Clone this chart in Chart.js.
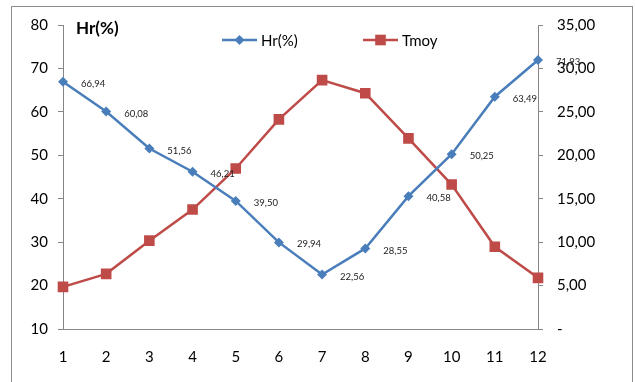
<!DOCTYPE html>
<html>
<head>
<meta charset="utf-8">
<script src="https://cdn.jsdelivr.net/npm/chart.js@4.4.0/dist/chart.umd.min.js"></script>
<style>
  html, body { margin: 0; padding: 0; background: #fff; }
  #wrap { width: 635px; height: 382px; position: relative; }
</style>
</head>
<body>
<div id="wrap"><canvas id="chart" width="635" height="382"></canvas></div>
<script>
// data
const months = ["1", "2", "3", "4", "5", "6", "7", "8", "9", "10", "11", "12"];
const hrValues = [66.94, 60.08, 51.56, 46.21, 39.50, 29.94, 22.56, 28.55, 40.58, 50.25, 63.49, 71.93];
const tmoyValues = [4.85, 6.35, 10.17, 13.75, 18.48, 24.14, 28.65, 27.15, 21.95, 16.63, 9.47, 5.89];
const hrTicks = [10, 20, 30, 40, 50, 60, 70, 80];
const tmoyTicks = [0, 5, 10, 15, 20, 25, 30, 35];

const FONT = "Lato, 'Open Sans', sans-serif";
const BLUE = "#4a7ebb";
const RED = "#be4b48";
const AXIS = "#868686";

const fmt2 = (v) => v.toFixed(2).replace(".", ",");

// frame, title, legend, point labels
const extras = {
  id: "extras",
  beforeDraw(chart) {
    const ctx = chart.ctx;
    ctx.save();
    ctx.fillStyle = "#fff";
    ctx.fillRect(0, 0, chart.width, chart.height);
    ctx.strokeStyle = "#8c8c8c";
    ctx.lineWidth = 1;
    ctx.strokeRect(11.5, 6.5, 621, 400);
    ctx.restore();
  },
  afterDatasetsDraw(chart) {
    const ctx = chart.ctx;
    ctx.save();

    // "Hr(%)" axis title
    ctx.fillStyle = "#000";
    ctx.font = "bold 17px " + FONT;
    ctx.textBaseline = "middle";
    ctx.textAlign = "left";
    ctx.fillText("Hr(%)", 76, 29);

    // legend
    const items = [
      { label: "Hr(%)", color: BLUE, style: "rectRot", r: 5, x: 222 },
      { label: "Tmoy", color: RED, style: "rect", r: 7.5, x: 363 }
    ];
    items.forEach((it) => {
      ctx.strokeStyle = it.color;
      ctx.lineWidth = 2.5;
      ctx.beginPath();
      ctx.moveTo(it.x, 40);
      ctx.lineTo(it.x + 35, 40);
      ctx.stroke();
      ctx.fillStyle = it.color;
      Chart.helpers.drawPoint(ctx, { pointStyle: it.style, radius: it.r, borderWidth: 0 }, it.x + 17.5, 40);
      ctx.fillStyle = "#000";
      ctx.font = "15px " + FONT;
      ctx.fillText(it.label, it.x + 39, 41);
    });

    // value labels on Hr points
    const meta = chart.getDatasetMeta(0);
    ctx.font = "9.5px " + FONT;
    ctx.fillStyle = "#222";
    meta.data.forEach((pt, i) => {
      ctx.fillText(fmt2(hrValues[i]), pt.x + 18, pt.y + 2);
    });
    ctx.restore();
  }
};

new Chart(document.getElementById("chart"), {
  type: "line",
  data: {
    labels: months,
    datasets: [
      {
        label: "Hr(%)",
        data: hrValues,
        yAxisID: "yHr",
        borderColor: BLUE,
        backgroundColor: BLUE,
        borderWidth: 2.5,
        pointStyle: "rectRot",
        pointRadius: 5,
        pointBorderWidth: 0,
        tension: 0
      },
      {
        label: "Tmoy",
        data: tmoyValues,
        yAxisID: "yT",
        borderColor: RED,
        backgroundColor: RED,
        borderWidth: 2.5,
        pointStyle: "rect",
        pointRadius: 7.5,
        pointBorderWidth: 0,
        tension: 0
      }
    ]
  },
  options: {
    responsive: false,
    animation: false,
    devicePixelRatio: 1,
    layout: { padding: { top: 25, left: 0, right: 0, bottom: 0 } },
    plugins: {
      legend: { display: false },
      tooltip: { enabled: false }
    },
    scales: {
      x: {
        offset: false,
        grid: { display: false, drawOnChartArea: false, drawTicks: true, tickLength: 5, tickColor: AXIS },
        border: { color: AXIS, width: 1 },
        ticks: { color: "#000", font: { family: FONT, size: 15 }, padding: 14, maxRotation: 0 },
        afterFit: (s) => { s.height = 53; }
      },
      yHr: {
        position: "left",
        min: 10,
        max: 80,
        afterBuildTicks: (s) => { s.ticks = hrTicks.map((v) => ({ value: v })); },
        grid: { drawOnChartArea: false, tickLength: 5, tickColor: AXIS },
        border: { color: AXIS, width: 1 },
        ticks: { color: "#000", font: { family: FONT, size: 15 }, padding: 10 },
        afterFit: (s) => { s.width = 63; }
      },
      yT: {
        position: "right",
        min: 0,
        max: 35,
        afterBuildTicks: (s) => { s.ticks = tmoyTicks.map((v) => ({ value: v })); },
        grid: { drawOnChartArea: false, tickLength: 5, tickColor: AXIS },
        border: { color: AXIS, width: 1 },
        ticks: {
          color: "#000",
          font: { family: FONT, size: 15 },
          padding: 14,
          callback: (v) => (v === 0 ? "-" : fmt2(v))
        },
        afterFit: (s) => { s.width = 97; }
      }
    }
  },
  plugins: [extras]
});
</script>
</body>
</html>
